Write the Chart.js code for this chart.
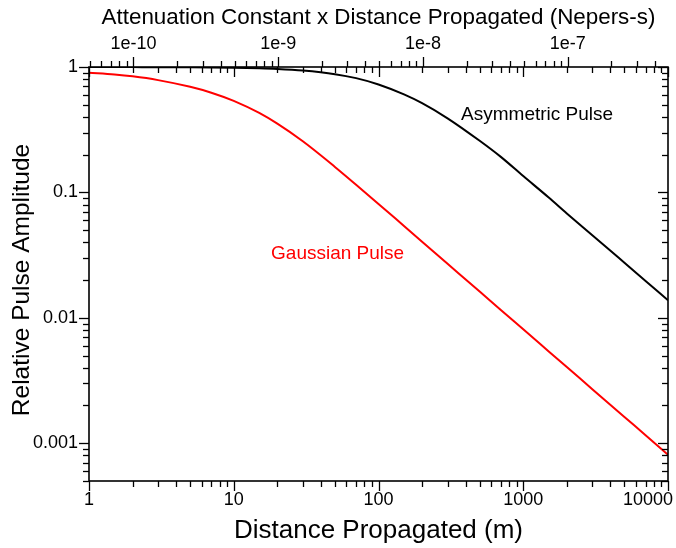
<!DOCTYPE html>
<html><head><meta charset="utf-8">
<script src="https://cdn.jsdelivr.net/npm/chart.js@4"></script>
<style>html,body{margin:0;padding:0;background:#fff;overflow:hidden}#c{display:block}</style>
</head><body>
<canvas id="c" width="676" height="548"></canvas>
<script>
// ---- data ----
const distances = [1, 1.5, 2, 3, 5, 7, 10, 15, 20, 30, 50, 70, 100, 150, 200, 300, 500, 700, 1000, 1500, 2000, 3000, 5000, 7000, 10000];
const asymmetricPulse = [0.999, 0.999, 0.998, 0.997, 0.995, 0.992, 0.987, 0.977, 0.965, 0.937, 0.877, 0.815, 0.726, 0.605, 0.515, 0.39, 0.258, 0.192, 0.135, 0.091, 0.068, 0.0456, 0.0275, 0.0197, 0.0138];
const gaussianPulse = [0.900, 0.871, 0.842, 0.786, 0.695, 0.624, 0.537, 0.430, 0.353, 0.2555, 0.1597, 0.1152, 0.0810, 0.0540, 0.0405, 0.0270, 0.0162, 0.01157, 0.0081, 0.0054, 0.00405, 0.0027, 0.00162, 0.00116, 0.00081];
const xTickLabels = ['1', '10', '100', '1000', '10000'];
const yTickLabels = ['1', '0.1', '0.01', '0.001'];
const topTickLabels = ['1e-10', '1e-9', '1e-8', '1e-7'];
const topScaleFactor = 4.93e-11; // Nepers-s per metre
const seriesNames = ['Asymmetric Pulse', 'Gaussian Pulse'];
const seriesColors = ['#000000', '#ff0000'];
const labelAnchors = [[372, 0.414], [18.1, 0.0327]]; // data coords (distance, amplitude)
const yTitle = 'Relative Pulse Amplitude';

const FONT = "'Liberation Sans', Arial, Helvetica, sans-serif";
Chart.defaults.font.family = FONT;
Chart.defaults.color = '#000';

function makeLogTicks(min, max) {
  const out = [];
  const e0 = Math.floor(Math.log10(min)), e1 = Math.ceil(Math.log10(max));
  for (let e = e0; e <= e1; e++) {
    for (let k = 1; k <= 9; k++) {
      const v = Number((k * Math.pow(10, e)).toPrecision(8));
      if (v >= min * (1 - 1e-9) && v <= max * (1 + 1e-9)) out.push({ value: v });
    }
  }
  return out;
}
function labelFrom(list, v) {
  const f = list.find(l => Math.abs(Number(l) - v) / v < 1e-6);
  return f === undefined ? '' : f;
}
const isMajor = v => Math.abs(Math.log10(v) - Math.round(Math.log10(v))) < 1e-6;

const tickPlugin = {
  id: 'tickMarks',
  afterDraw(chart) {
    const { ctx, chartArea: a, scales } = chart;
    ctx.save();
    ctx.strokeStyle = '#000';
    ctx.lineWidth = 1.3;
    const seg = (x1, y1, x2, y2) => { ctx.beginPath(); ctx.moveTo(x1, y1); ctx.lineTo(x2, y2); ctx.stroke(); };
    scales.x.ticks.forEach(t => {
      const p = Math.round(scales.x.getPixelForValue(t.value)) + 0.5;
      const L = isMajor(t.value) ? 10 : 6;
      seg(p, a.bottom, p, a.bottom + L);
      seg(p, a.top, p, a.top + L);
    });
    scales.x2.ticks.forEach(t => {
      const p = Math.round(scales.x2.getPixelForValue(t.value)) + 0.5;
      const L = isMajor(t.value) ? 10 : 6;
      seg(p, a.top, p, a.top - L);
    });
    scales.y.ticks.forEach(t => {
      const p = Math.round(scales.y.getPixelForValue(t.value)) + 0.5;
      const L = isMajor(t.value) ? 10 : 6;
      seg(a.left - L, p, a.left, p);
      seg(a.right - L, p, a.right, p);
    });
    ctx.lineWidth = 1.6;
    ctx.strokeRect(a.left, a.top, a.right - a.left, a.bottom - a.top);

    // bottom tick labels (kept inside the canvas like the reference)
    ctx.fillStyle = '#000';
    ctx.font = '18px ' + FONT;
    ctx.textAlign = 'center';
    ctx.textBaseline = 'middle';
    scales.x.ticks.forEach(t => {
      const s = labelFrom(xTickLabels, t.value);
      if (!s) return;
      const w = ctx.measureText(s).width;
      const p = Math.min(scales.x.getPixelForValue(t.value), chart.width - w / 2 - 3);
      ctx.fillText(s, p, a.bottom + 19.5);
    });

    // y axis title
    ctx.save();
    ctx.font = '24.5px ' + FONT;
    ctx.translate(22.5, (a.top + a.bottom) / 2 + 6);
    ctx.rotate(-Math.PI / 2);
    ctx.fillText(yTitle, 0, 0);
    ctx.restore();

    // curve labels
    ctx.font = '19px ' + FONT;
    ctx.textAlign = 'left';
    ctx.textBaseline = 'middle';
    seriesNames.forEach((n, i) => {
      ctx.fillStyle = seriesColors[i];
      ctx.fillText(n, scales.x.getPixelForValue(labelAnchors[i][0]), scales.y.getPixelForValue(labelAnchors[i][1]));
    });
    ctx.restore();
  }
};

const pts = arr => distances.map((d, i) => ({ x: d, y: arr[i] }));
const fitX = h => s => { s.height = h; s.paddingLeft = 0; s.paddingRight = 0; };

new Chart(document.getElementById('c'), {
  type: 'line',
  data: {
    datasets: [
      { label: seriesNames[0], data: pts(asymmetricPulse), borderColor: seriesColors[0], borderWidth: 2, pointRadius: 0, cubicInterpolationMode: 'monotone', fill: false },
      { label: seriesNames[1], data: pts(gaussianPulse), borderColor: seriesColors[1], borderWidth: 2, pointRadius: 0, cubicInterpolationMode: 'monotone', fill: false }
    ]
  },
  options: {
    responsive: false,
    animation: false,
    devicePixelRatio: 1,
    layout: { padding: { left: 0, right: 8, top: 0, bottom: 0 }, autoPadding: false },
    plugins: { legend: { display: false }, tooltip: { enabled: false } },
    scales: {
      x: {
        type: 'logarithmic', position: 'bottom', min: 1, max: 10000,
        afterBuildTicks: s => { s.ticks = makeLogTicks(1, 10000); },
        afterFit: fitX(67),
        grid: { display: false, drawTicks: false }, border: { display: false },
        ticks: { autoSkip: false, maxRotation: 0, minRotation: 0, padding: 9, font: { size: 18 }, color: '#000',
                 callback: () => '' },
        title: { display: true, text: 'Distance Propagated (m)', font: { size: 26 }, color: '#000', padding: { top: 0, bottom: 2 } }
      },
      x2: {
        type: 'logarithmic', position: 'top', min: 1 * topScaleFactor, max: 10000 * topScaleFactor,
        afterBuildTicks: s => { s.ticks = makeLogTicks(topScaleFactor, 10000 * topScaleFactor); },
        afterFit: fitX(67),
        grid: { display: false, drawTicks: false }, border: { display: false },
        ticks: { autoSkip: false, maxRotation: 0, minRotation: 0, padding: 12, font: { size: 18 }, color: '#000',
                 callback: v => labelFrom(topTickLabels, v) },
        title: { display: true, text: 'Attenuation Constant x Distance Propagated (Nepers-s)', font: { size: 22.4 }, color: '#000', padding: { top: 4, bottom: 0 } }
      },
      y: {
        type: 'logarithmic', position: 'left', min: 5e-4, max: 1,
        afterBuildTicks: s => { s.ticks = makeLogTicks(5e-4, 1); },
        afterFit: s => { s.width = 89; s.paddingTop = 0; s.paddingBottom = 0; },
        grid: { display: false, drawTicks: false }, border: { display: false },
        ticks: { autoSkip: false, padding: 11, font: { size: 18 }, color: '#000',
                 callback: v => labelFrom(yTickLabels, v) },
        title: { display: false }
      }
    }
  },
  plugins: [tickPlugin]
});
</script>
</body></html>
